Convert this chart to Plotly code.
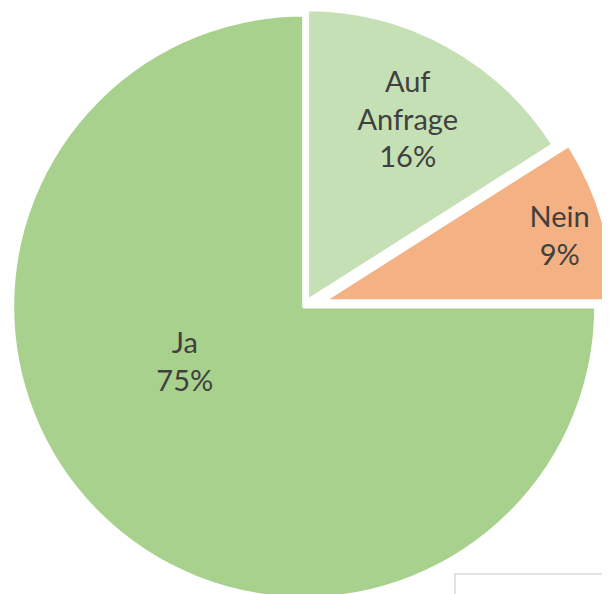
import math
import plotly.graph_objects as go

labels = ["Ja", "Auf Anfrage", "Nein"]
values = [75, 16, 9]
colors = ["#a9d18e", "#c5e0b4", "#f4b183"]
pulls = [0.0, 0.0205, 0.065]
# label placement tweaks for the (invisible) label carrier of each slice:
# extra rotation (deg), radius scale, and outward push (px) along the slice bisector
label_shift = [20.6, 0, 0]
label_scale = [0.898, 0.92, 1.0]
label_push = [0.0, 27.5, 20.5]

# page has the default 8px body margin; figure coords = page coords - 8
W, H = 630, 591
R = 292.0
CX, CY = 296.2, 298.5
ROT = 90
FONT = dict(family="Lato", size=29, color="#404040")

total = sum(values)
n = len(values)
texts = [l.replace(" ", "<br>") for l in labels]


def dom(cx, cy, r):
    return dict(x=[max(0, (cx - r) / W), min(1, (cx + r) / W)],
                y=[max(0, 1 - (cy + r) / H), min(1, 1 - (cy - r) / H)])


fig = go.Figure()
cum = 0.0
for i, v in enumerate(values):
    mid = ROT + 360.0 * (cum + v / 2.0) / total
    cum += v
    ux, uy = math.sin(math.radians(mid)), -math.cos(math.radians(mid))
    d = pulls[i] * R
    cx, cy = CX + d * ux, CY + d * uy
    only = lambda a, b: [a if j == i else b for j in range(n)]
    # slice shape (no text)
    fig.add_trace(go.Pie(
        labels=labels, values=values, text=texts,
        sort=False, direction="clockwise", rotation=ROT,
        domain=dom(cx, cy, R),
        marker=dict(colors=only(colors[i], "rgba(0,0,0,0)"),
                    line=dict(color=only("white", "rgba(0,0,0,0)"), width=4)),
        textposition="none",
        hoverinfo="label+percent",
        showlegend=False,
    ))
    # transparent carrier for the slice label
    p = label_push[i]
    fig.add_trace(go.Pie(
        labels=labels, values=values, text=texts,
        sort=False, direction="clockwise", rotation=ROT + label_shift[i],
        domain=dom(cx + p * ux, cy + p * uy, R * label_scale[i]),
        marker=dict(colors=["rgba(0,0,0,0)"] * n,
                    line=dict(color=["rgba(0,0,0,0)"] * n, width=0)),
        texttemplate=only("%{text}<br>%{percent:.0%}", ""),
        textposition=only("inside", "none"),
        insidetextorientation="horizontal",
        textfont=FONT,
        hoverinfo="skip",
        showlegend=False,
    ))

fig.add_shape(type="rect", xref="paper", yref="paper",
              x0=447 / W, x1=1.05, y0=-0.05, y1=1 - 566 / H,
              line=dict(color="#d9d9d9", width=1.5), fillcolor="white")

fig.update_layout(
    width=W, height=H,
    margin=dict(l=0, r=0, t=0, b=0),
    paper_bgcolor="white",
    plot_bgcolor="white",
    showlegend=False,
)

fig.write_html("out.html")
